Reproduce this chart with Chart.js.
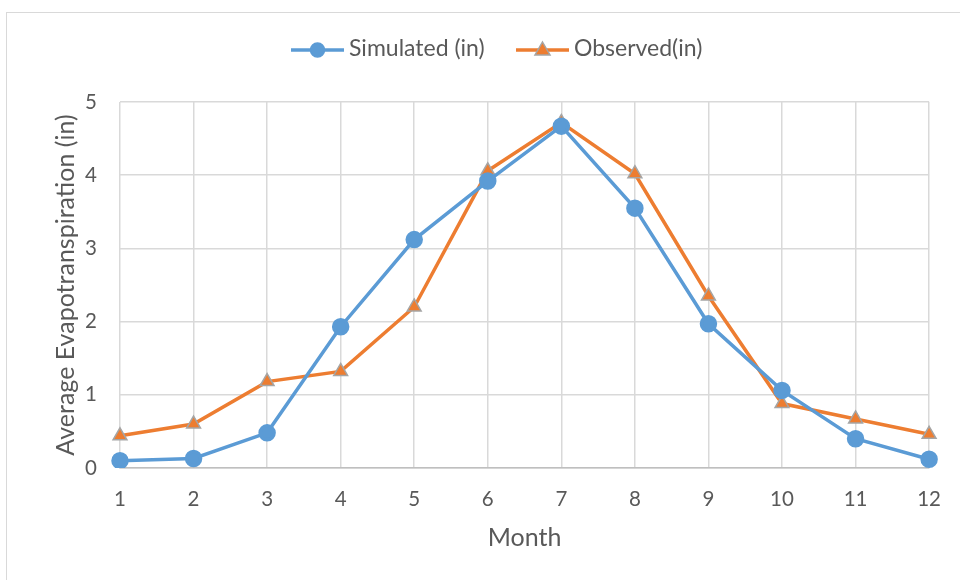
<!DOCTYPE html>
<html>
<head>
  <title>Average Evapotranspiration</title>
  <script src="https://cdn.jsdelivr.net/npm/chart.js"></script>
  <style>
    body { margin: 0; background: #fff; }
    #wrap { position: relative; width: 960px; height: 580px; }
    #frame { position: absolute; left: 6px; top: 12px; width: 960px; height: 580px;
             border-left: 1px solid #d9d9d9; border-top: 1px solid #d9d9d9; }
    canvas { position: absolute; left: 0; top: 0; }
  </style>
</head>
<body>
  <div id="wrap">
    <div id="frame"></div>
    <canvas id="chart" width="960" height="580"></canvas>
  </div>

  <script>
    const months = ['1', '2', '3', '4', '5', '6', '7', '8', '9', '10', '11', '12'];
    const simulated = [0.10, 0.13, 0.48, 1.93, 3.12, 3.92, 4.67, 3.55, 1.97, 1.06, 0.40, 0.12];
    const observed = [0.44, 0.60, 1.18, 1.32, 2.20, 4.06, 4.72, 4.02, 2.35, 0.88, 0.67, 0.46];
    const yTicks = [0, 1, 2, 3, 4, 5];

    const textColor = '#595959';
    const fontFamily = 'Lato, "Open Sans", sans-serif';

    // excel style legend: short line with the marker in the middle
    const lineLegend = {
      id: 'lineLegend',
      afterDraw(chart) {
        const ctx = chart.ctx;
        const items = [
          { ds: chart.data.datasets[0], x: 291 },
          { ds: chart.data.datasets[1], x: 516 }
        ];
        const y = 50;
        ctx.save();
        items.forEach(item => {
          const ds = item.ds;
          ctx.strokeStyle = ds.borderColor;
          ctx.lineWidth = 3.5;
          ctx.beginPath();
          ctx.moveTo(item.x, y);
          ctx.lineTo(item.x + 53, y);
          ctx.stroke();
          ctx.fillStyle = ds.pointBackgroundColor;
          ctx.strokeStyle = ds.pointBorderColor;
          ctx.lineWidth = 1.5;
          const cx = item.x + 26.5;
          if (ds.pointStyle === 'triangle') {
            ctx.beginPath();
            ctx.moveTo(cx, y - 8);
            ctx.lineTo(cx + 7.5, y + 5);
            ctx.lineTo(cx - 7.5, y + 5);
            ctx.closePath();
            ctx.fill();
            ctx.stroke();
          } else {
            ctx.beginPath();
            ctx.arc(cx, y, 7, 0, Math.PI * 2);
            ctx.fill();
            ctx.stroke();
          }
          ctx.fillStyle = textColor;
          ctx.font = '23px ' + fontFamily;
          ctx.textBaseline = 'middle';
          ctx.textAlign = 'left';
          ctx.fillText(ds.label, item.x + 58, y - 1);
        });
        ctx.restore();
      }
    };

    new Chart(document.getElementById('chart').getContext('2d'), {
      type: 'line',
      data: {
        labels: months,
        datasets: [
          {
            label: 'Simulated (in)',
            data: simulated,
            borderColor: '#5B9BD5',
            backgroundColor: '#5B9BD5',
            pointBackgroundColor: '#5B9BD5',
            pointBorderColor: '#5B9BD5',
            pointStyle: 'circle',
            pointRadius: 7,
            borderWidth: 3.5,
            tension: 0,
            fill: false,
          },
          {
            label: 'Observed(in)',
            data: observed,
            borderColor: '#ED7D31',
            backgroundColor: '#ED7D31',
            pointBackgroundColor: '#ED7D31',
            pointBorderColor: '#A5A5A5',
            pointBorderWidth: 1.5,
            pointStyle: 'triangle',
            pointRadius: 8,
            borderWidth: 3.5,
            tension: 0,
            fill: false,
          }
        ]
      },
      options: {
        responsive: false,
        animation: false,
        layout: { padding: { top: 102, right: 30, left: 0, bottom: 0 } },
        plugins: {
          legend: { display: false },
          tooltip: { enabled: false }
        },
        scales: {
          x: {
            offset: false,
            grid: { color: '#D9D9D9', lineWidth: 1.5, drawTicks: false },
            border: { color: '#BFBFBF', width: 1.5 },
            ticks: { color: textColor, font: { family: fontFamily, size: 20.5 }, padding: 19, maxRotation: 0 },
            title: {
              display: true, text: 'Month', color: textColor,
              font: { family: fontFamily, size: 25 }, padding: { top: 0, bottom: 27 }
            },
            afterFit(scale) { scale.height = 112; }
          },
          y: {
            min: 0,
            max: 5,
            afterBuildTicks(scale) { scale.ticks = yTicks.map(v => ({ value: v })); },
            grid: { color: '#D9D9D9', lineWidth: 1.5, drawTicks: false },
            border: { display: false },
            ticks: { color: textColor, font: { family: fontFamily, size: 20.5 }, padding: 23 },
            title: {
              display: true, text: 'Average Evapotranspiration (in)', color: textColor,
              font: { family: fontFamily, size: 25 }, padding: { top: 51, bottom: 0 }
            },
            afterFit(scale) { scale.width = 120; }
          }
        }
      },
      plugins: [lineLegend]
    });
  </script>
</body>
</html>
